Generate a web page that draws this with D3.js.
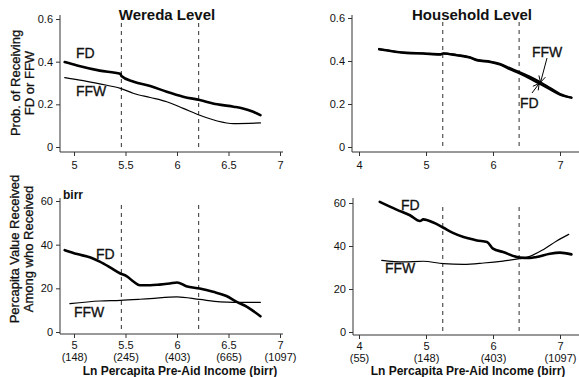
<!DOCTYPE html>
<html>
<head>
<meta charset="utf-8">
<script src="https://cdn.jsdelivr.net/npm/d3@7"></script>
<style>
  body { margin: 0; background: #fff; }
  svg { font-family: 'Liberation Sans', Arial, sans-serif; }
  .tick text { font-size: 11px; fill: #111; }
</style>
</head>
<body>
<svg id="chart" width="579" height="377"></svg>
<script>
// ---- data ----
const weredaFD = [[4.91,0.398],[5.03,0.382],[5.25,0.358],[5.45,0.343],[5.46,0.333],[5.58,0.306],[5.74,0.286],[5.9,0.259],[6.06,0.236],[6.22,0.22],[6.39,0.2],[6.55,0.189],[6.64,0.181],[6.74,0.165],[6.81,0.149]];
const weredaFFW = [[4.91,0.325],[5.09,0.311],[5.25,0.296],[5.45,0.275],[5.58,0.251],[5.74,0.232],[5.9,0.212],[6.06,0.181],[6.22,0.149],[6.39,0.122],[6.55,0.11],[6.81,0.113]];
const hhFD = [[4.3,0.454],[4.71,0.437],[4.96,0.434],[5.21,0.43],[5.26,0.434],[5.46,0.426],[5.66,0.415],[5.76,0.403],[5.96,0.395],[6.1,0.384],[6.25,0.362],[6.4,0.342],[6.55,0.319],[6.7,0.294],[6.85,0.268],[7.0,0.243],[7.17,0.229]];
const hhFFW = [[4.3,0.456],[4.71,0.439],[4.96,0.436],[5.21,0.432],[5.26,0.436],[5.46,0.428],[5.66,0.417],[5.76,0.405],[5.96,0.397],[6.1,0.387],[6.25,0.367],[6.4,0.348],[6.55,0.327],[6.7,0.303],[6.85,0.275],[7.0,0.247],[7.17,0.23]];
const valWeredaFD = [[4.91,37.5],[5.03,35.7],[5.16,34.1],[5.25,32.2],[5.35,29.6],[5.45,26.8],[5.51,25.6],[5.58,23.0],[5.64,21.4],[5.74,21.4],[5.83,21.7],[5.93,22.2],[6.0,22.7],[6.09,21.0],[6.22,19.9],[6.35,18.4],[6.48,16.5],[6.58,13.8],[6.68,11.5],[6.81,7.2]];
const valWeredaFFW = [[4.96,13.0],[5.25,14.2],[5.45,14.5],[5.64,15.0],[5.74,15.3],[6.0,16.1],[6.22,14.9],[6.42,13.8],[6.55,13.6],[6.81,13.6]];
const valHhFD = [[4.31,60.5],[4.56,56.9],[4.76,54.3],[4.91,51.6],[4.96,52.4],[5.11,50.9],[5.26,48.5],[5.41,46.0],[5.56,44.2],[5.66,43.4],[5.76,42.6],[5.91,41.9],[6.0,38.8],[6.15,37.2],[6.4,34.6],[6.55,34.4],[6.65,34.9],[6.85,36.4],[7.0,36.9],[7.17,36.1]];
const valHhFFW = [[4.34,33.3],[4.66,32.6],[4.96,32.9],[5.26,31.8],[5.56,31.5],[5.86,32.1],[6.15,33.0],[6.4,34.1],[6.55,35.2],[6.75,38.3],[6.95,42.3],[7.13,45.4]];

const weredaCuts = [5.46, 6.21];
const hhCuts = [5.25, 6.39];
const probTicks = [0, 0.2, 0.4, 0.6];
const valTicks = [0, 20, 40, 60];
const weredaXTicks = [5, 5.5, 6, 6.5, 7];
const hhXTicks = [4, 5, 6, 7];
const birrLabels = {4: '(55)', 5: '(148)', 5.5: '(245)', 6: '(403)', 6.5: '(665)', 7: '(1097)'};

const svg = d3.select('#chart');

function drawPanel(p) {
  const x = d3.scaleLinear().domain(p.xDomain).range(p.xRange);
  const y = d3.scaleLinear().domain(p.yDomain).range(p.yRange);
  const g = svg.append('g');

  // axes
  const xAxis = d3.axisBottom(x).tickValues(p.xTicks).tickSize(4).tickSizeOuter(0)
    .tickFormat(d => p.birr ? '' : d3.format('')(d));
  const gx = g.append('g').attr('transform', `translate(0,${p.xAxisY})`).call(xAxis);
  gx.select('.domain').attr('d', `M${p.xLine[0]},0H${p.xLine[1]}`).attr('stroke', '#333');
  gx.selectAll('.tick line').attr('stroke', '#333');
  gx.selectAll('.tick text').attr('dy', '0.9em');
  if (p.birr) {
    gx.selectAll('.tick').each(function(d) {
      const t = d3.select(this).select('text');
      t.text(null);
      t.append('tspan').attr('x', 0).attr('y', 5).attr('dy', '0.9em').text(d3.format('')(d));
      t.append('tspan').attr('x', 0).attr('y', 17).attr('dy', '0.9em').text(birrLabels[d]);
    });
  }

  const yAxis = d3.axisLeft(y).tickValues(p.yTicks).tickSize(4).tickSizeOuter(0)
    .tickFormat(d => d === 0 ? '0' : (p.yDomain[1] < 1 ? d3.format('.1f')(d) : d));
  const gy = g.append('g').attr('transform', `translate(${p.yAxisX},0)`).call(yAxis);
  gy.select('.domain').attr('d', `M0,${p.yLine[0]}V${p.yLine[1]}`).attr('stroke', '#333');
  gy.selectAll('.tick line').attr('stroke', '#333');

  // dashed cut-offs
  g.selectAll('.cut').data(p.cuts).join('line')
    .attr('x1', d => x(d)).attr('x2', d => x(d))
    .attr('y1', y(p.yDomain[1]) + 4).attr('y2', p.xAxisY - 3)
    .attr('stroke', '#444').attr('stroke-width', 1.1).attr('stroke-dasharray', '4,4');

  const line = d3.line().x(d => x(d[0])).y(d => y(d[1])).curve(d3.curveMonotoneX);
  p.series.forEach(s => {
    g.append('path').datum(s.data).attr('d', line)
      .attr('fill', 'none').attr('stroke', '#000').attr('stroke-width', s.width)
      .attr('stroke-linejoin', 'round').attr('stroke-linecap', 'round');
  });

  p.labels.forEach(l => {
    g.append('text').attr('x', l.x).attr('y', l.y).attr('font-size', 14)
      .attr('fill', '#111').attr('stroke', '#111').attr('stroke-width', 0.3).text(l.text);
  });

  if (p.title) {
    g.append('text').attr('x', p.title.x).attr('y', 20).attr('text-anchor', 'middle')
      .attr('font-size', 15).attr('font-weight', 'bold').attr('fill', '#111').text(p.title.text);
  }
  return { x, y, g };
}

drawPanel({
  xDomain: [5, 7], xRange: [74, 280], yDomain: [0, 0.6], yRange: [147, 19],
  xTicks: weredaXTicks, yTicks: probTicks, xAxisY: 152, yAxisX: 60,
  xLine: [60, 283], yLine: [15, 152], cuts: weredaCuts,
  series: [{ data: weredaFD, width: 2.6 }, { data: weredaFFW, width: 1.2 }],
  labels: [{ text: 'FD', x: 76, y: 58 }, { text: 'FFW', x: 76, y: 96 }],
  title: { text: 'Wereda Level', x: 167 }
});

const hh = drawPanel({
  xDomain: [4, 7], xRange: [359, 560], yDomain: [0, 0.6], yRange: [147, 18],
  xTicks: hhXTicks, yTicks: probTicks, xAxisY: 152, yAxisX: 352,
  xLine: [352, 579], yLine: [15, 152], cuts: hhCuts,
  series: [{ data: hhFFW, width: 2.2 }, { data: hhFD, width: 2.2 }],
  labels: [{ text: 'FFW', x: 532, y: 57 }, { text: 'FD', x: 520, y: 108 }],
  title: { text: 'Household Level', x: 472 }
});

// arrows pointing to the two household lines
[[547, 58, 6.71, hhFFW], [532, 93, 6.69, hhFD]].forEach(([ax, ay, xv, data]) => {
  const yv = d3.scaleLinear().domain(data.map(d => d[0])).range(data.map(d => d[1]))(xv);
  const tx = hh.x(xv), ty = hh.y(yv);
  const ang = Math.atan2(ty - ay, tx - ax);
  hh.g.append('line').attr('x1', ax).attr('y1', ay).attr('x2', tx).attr('y2', ty)
    .attr('stroke', '#000').attr('stroke-width', 1);
  [0.5, -0.5].forEach(da => {
    hh.g.append('line').attr('x1', tx).attr('y1', ty)
      .attr('x2', tx - 7 * Math.cos(ang + da)).attr('y2', ty - 7 * Math.sin(ang + da))
      .attr('stroke', '#000').attr('stroke-width', 1);
  });
});

drawPanel({
  xDomain: [5, 7], xRange: [74, 280], yDomain: [0, 60], yRange: [332, 201],
  xTicks: weredaXTicks, yTicks: valTicks, xAxisY: 334, yAxisX: 60, birr: true,
  xLine: [60, 283], yLine: [198, 334], cuts: weredaCuts,
  series: [{ data: valWeredaFD, width: 2.6 }, { data: valWeredaFFW, width: 1.2 }],
  labels: [{ text: 'FD', x: 96, y: 259 }, { text: 'FFW', x: 74, y: 317 }]
});

drawPanel({
  xDomain: [4, 7], xRange: [359, 560], yDomain: [0, 60], yRange: [332, 203],
  xTicks: hhXTicks, yTicks: valTicks, xAxisY: 335, yAxisX: 353, birr: true,
  xLine: [353, 579], yLine: [198, 335], cuts: hhCuts,
  series: [{ data: valHhFD, width: 2.6 }, { data: valHhFFW, width: 1.2 }],
  labels: [{ text: 'FD', x: 401, y: 210 }, { text: 'FFW', x: 385, y: 273 }]
});

// "birr" unit label
svg.append('text').attr('x', 63).attr('y', 199).attr('font-size', 12)
  .attr('font-weight', 'bold').attr('fill', '#111').text('birr');

// y-axis titles
function yTitle(lines, cx, cy) {
  const t = svg.append('text').attr('transform', `translate(${cx},${cy}) rotate(-90)`)
    .attr('text-anchor', 'middle').attr('font-size', 13).attr('fill', '#111')
    .attr('stroke', '#111').attr('stroke-width', 0.3);
  lines.forEach((s, i) => t.append('tspan').attr('x', 0).attr('dy', i ? 14 : 0).text(s));
}
yTitle(['Prob. of Receiving', 'FD or FFW'], 20, 83);
yTitle(['Percapita Value Received', 'Among who Received'], 19, 249);

// x-axis titles
['Ln Percapita Pre-Aid Income (birr)', 'Ln Percapita Pre-Aid Income (birr)'].forEach((s, i) => {
  svg.append('text').attr('x', i ? 468 : 180).attr('y', 375).attr('text-anchor', 'middle')
    .attr('font-size', 12).attr('font-weight', 'bold').attr('fill', '#111').text(s);
});
</script>
</body>
</html>
